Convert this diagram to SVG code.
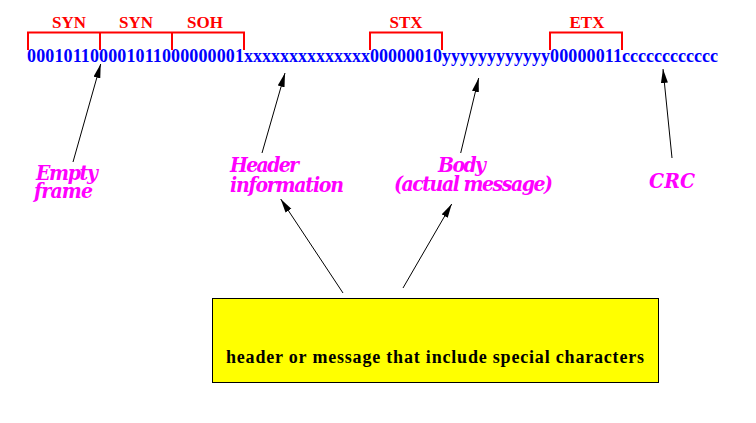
<svg xmlns="http://www.w3.org/2000/svg" width="756" height="423" viewBox="0 0 756 423">
<style>
.bits{font-family:"Liberation Serif","Times New Roman",serif;font-weight:bold;font-size:18px;fill:#0000ff}
.tag{font-family:"Liberation Serif","Times New Roman",serif;font-weight:bold;font-size:17px;fill:#ff0000;text-anchor:middle}
.brk{fill:none;stroke:#ff0000;stroke-width:2}
.lbl{font-family:"DejaVu Serif Condensed","DejaVu Serif",serif;font-weight:bold;font-style:italic;font-size:21px;fill:#ff00ff}
.con{stroke:#000;stroke-width:1;fill:none;marker-end:url(#ah)}
.box{fill:#ffff00;stroke:#000;stroke-width:1}
.boxt{font-family:"Liberation Serif","Times New Roman",serif;font-weight:bold;font-size:18px;fill:#000}
</style>
<defs>
<marker id="ah" markerUnits="userSpaceOnUse" markerWidth="15" markerHeight="8" refX="14" refY="3.5" orient="auto">
<path d="M0,0 L14,3.5 L0,7 Z" fill="#000"/>
</marker>
</defs>
<rect width="756" height="423" fill="#fff"/>
<g id="frame-bits">
<text class="bits" x="27" y="62" textLength="217">000101100001011000000001</text>
<text class="bits" x="244" y="62" textLength="126">xxxxxxxxxxxxxx</text>
<text class="bits" x="370" y="62" textLength="72">00000010</text>
<text class="bits" x="442" y="62" textLength="108">yyyyyyyyyyyy</text>
<text class="bits" x="550" y="62" textLength="72">00000011</text>
<text class="bits" x="622" y="62" textLength="96">cccccccccccc</text>
</g>
<g id="brackets">
<path class="brk" d="M28,50 V32.5 H244 V50 M100,32.5 V50 M172,32.5 V50"/>
<path class="brk" d="M370,50 V32.5 H442 V50"/>
<path class="brk" d="M550,50 V32.5 H622 V50"/>
<text class="tag" x="69" y="28">SYN</text>
<text class="tag" x="136" y="28">SYN</text>
<text class="tag" x="205" y="28">SOH</text>
<text class="tag" x="406" y="28">STX</text>
<text class="tag" x="587" y="28">ETX</text>
</g>
<g id="label-empty">
<text class="lbl" x="36" y="180" textLength="62">Empty</text>
<text class="lbl" x="34" y="198" textLength="59">frame</text>
</g>
<g id="label-header">
<text class="lbl" x="230" y="172" textLength="69">Header</text>
<text class="lbl" x="230" y="192" textLength="114">information</text>
</g>
<g id="label-body">
<text class="lbl" x="438" y="172" textLength="48">Body</text>
<text class="lbl" x="394" y="191" textLength="159">(actual message)</text>
</g>
<g id="label-crc">
<text class="lbl" x="649" y="188" textLength="46">CRC</text>
</g>
<g id="special-box">
<rect class="box" x="212.5" y="298.5" width="446" height="84"/>
<text class="boxt" x="226" y="363" textLength="418">header or message that include special characters</text>
</g>
<g id="connectors">
<line class="con" x1="73" y1="162" x2="100.7" y2="64"/>
<line class="con" x1="262" y1="153" x2="285" y2="73"/>
<line class="con" x1="460.7" y1="153" x2="478.7" y2="78"/>
<line class="con" x1="672" y1="158" x2="663" y2="69"/>
<line class="con" x1="343" y1="293" x2="280.7" y2="199"/>
<line class="con" x1="403" y1="288" x2="451.7" y2="204"/>
</g>
</svg>
